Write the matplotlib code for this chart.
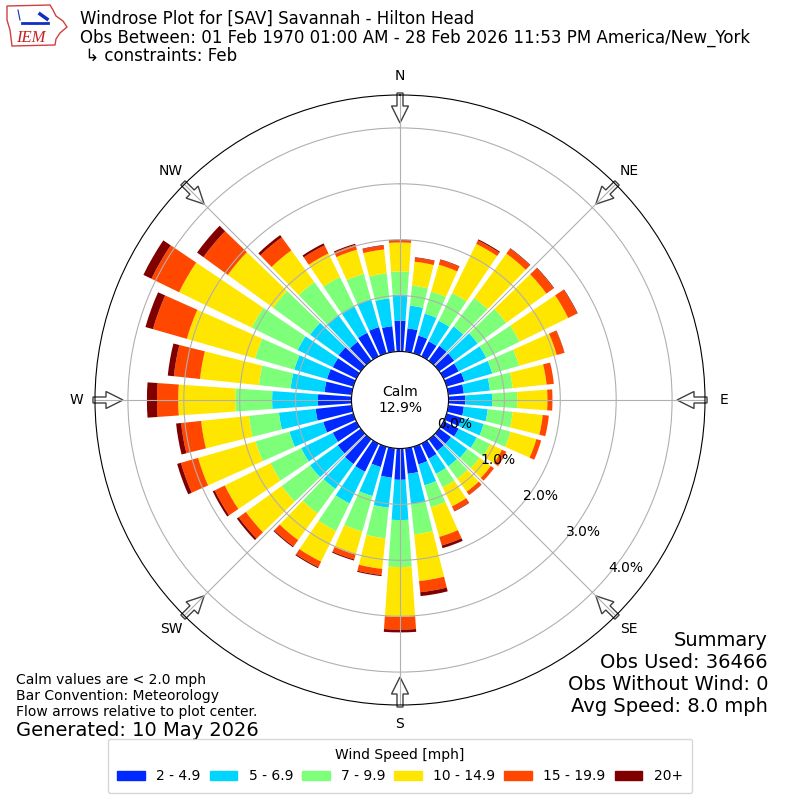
import numpy as np
import matplotlib
matplotlib.use("Agg")
import matplotlib.pyplot as plt
from matplotlib.patches import Rectangle, FancyArrow, Polygon
from matplotlib.lines import Line2D

# ---- data (percent of obs per direction / speed bin) ----
directions = [0, 10, 20, 30, 40, 50, 60, 70, 80, 90, 100, 110,
              120, 130, 140, 150, 160, 170, 180, 190, 200, 210, 220, 230,
              240, 250, 260, 270, 280, 290, 300, 310, 320, 330, 340, 350]
speed_labels = ["2 - 4.9", "5 - 6.9", "7 - 9.9", "10 - 14.9", "15 - 19.9", "20+"]

spd_2_5 = [0.55, 0.42, 0.33, 0.30, 0.33, 0.33, 0.30, 0.33, 0.28, 0.30, 0.28, 0.28,
           0.30, 0.26, 0.26, 0.30, 0.33, 0.46, 0.56, 0.53, 0.38, 0.56, 0.55, 0.51,
           0.47, 0.56, 0.65, 0.60, 0.49, 0.49, 0.47, 0.49, 0.42, 0.47, 0.49, 0.46]
spd_5_7 = [0.47, 0.41, 0.41, 0.41, 0.43, 0.52, 0.55, 0.52, 0.47, 0.48, 0.43, 0.41,
           0.36, 0.36, 0.34, 0.30, 0.39, 0.54, 0.72, 0.54, 0.54, 0.63, 0.55, 0.61,
           0.63, 0.63, 0.66, 0.82, 0.61, 0.61, 0.70, 0.63, 0.59, 0.52, 0.52, 0.50]
spd_7_10 = [0.41, 0.36, 0.41, 0.55, 0.63, 0.63, 0.66, 0.50, 0.41, 0.45, 0.45, 0.50,
            0.27, 0.27, 0.27, 0.27, 0.41, 0.55, 0.84, 0.55, 0.66, 0.55, 0.54, 0.63,
            0.61, 0.63, 0.54, 0.66, 0.57, 0.73, 0.91, 0.82, 0.73, 0.59, 0.47, 0.45]
spd_10_15 = [0.52, 0.43, 0.50, 0.98, 0.98, 0.89, 0.97, 0.70, 0.61, 0.54, 0.54, 0.48,
             0.23, 0.25, 0.29, 0.38, 0.55, 0.84, 0.89, 0.55, 0.43, 0.61, 0.59, 0.79,
             0.91, 1.07, 0.86, 1.02, 1.06, 1.27, 1.45, 1.00, 0.70, 0.47, 0.45, 0.43]
spd_15_20 = [0.04, 0.07, 0.09, 0.07, 0.11, 0.16, 0.18, 0.14, 0.13, 0.09, 0.11, 0.09,
             0.09, 0.07, 0.07, 0.09, 0.16, 0.20, 0.23, 0.11, 0.09, 0.11, 0.14, 0.16,
             0.20, 0.32, 0.36, 0.38, 0.47, 0.63, 0.55, 0.54, 0.29, 0.16, 0.09, 0.07]
spd_20p = [0.01, 0.01, 0.01, 0.02, 0.01, 0.01, 0.01, 0.005, 0.0, 0.0, 0.0, 0.0,
           0.0, 0.0, 0.005, 0.01, 0.05, 0.07, 0.05, 0.02, 0.02, 0.02, 0.02, 0.04,
           0.04, 0.07, 0.09, 0.18, 0.11, 0.14, 0.16, 0.14, 0.05, 0.04, 0.02, 0.01]

calm_pct = 12.9
ring_values = [0, 1, 2, 3, 4]
compass_angles = [0, 45, 90, 135, 180, 225, 270, 315]
compass_labels = ["N", "NE", "E", "SE", "S", "SW", "W", "NW"]

summary_lines = ["Summary", "Obs Used: 36466", "Obs Without Wind: 0",
                 "Avg Speed: 8.0 mph"]
note_lines = ["Calm values are < 2.0 mph", "Bar Convention: Meteorology",
              "Flow arrows relative to plot center."]

speed_bins = [spd_2_5, spd_5_7, spd_7_10, spd_10_15, spd_15_20, spd_20p]
colors = plt.get_cmap("jet")(np.linspace(0, 1, 7))[1:]

fig = plt.figure(figsize=(8, 8), dpi=100)
ax = fig.add_axes([0.11875, 0.11875, 0.7625, 0.7625], projection="polar")
ax.set_theta_zero_location("N")
ax.set_theta_direction(-1)
ax.set_ylim(0, 4.589)
ax.set_rorigin(-0.868)

# stacked bars
theta = np.deg2rad(directions)
bottom = np.zeros(len(directions))
for vals, col in zip(speed_bins, colors):
    ax.bar(theta, vals, width=np.deg2rad(8), bottom=bottom, color=col,
           linewidth=0, zorder=1)
    bottom += np.array(vals)

# grid / ticks
ax.set_yticks(ring_values)
ax.set_yticklabels([])
ax.set_thetagrids(compass_angles, compass_labels, fontsize=10)
ax.tick_params(axis="x", pad=3)
ax.grid(True, color="#b0b0b0", lw=0.8)
for v in ring_values:
    ax.text(np.deg2rad(130), v, "%.1f%%" % v, ha="left", va="bottom",
            fontsize=10, zorder=5)

# flow arrows at the compass points
for a in compass_angles:
    s, c = np.sin(np.deg2rad(a)), np.cos(np.deg2rad(a))
    r0, length = 307 / 610.0, 30 / 610.0
    arr = FancyArrow(0.5 + r0 * s, 0.5 + r0 * c, -length * s, -length * c,
                     width=6 / 610.0, head_width=17 / 610.0,
                     head_length=17 / 610.0, length_includes_head=True,
                     transform=ax.transAxes, facecolor="white",
                     edgecolor="#404040", lw=1, clip_on=False, zorder=1.2)
    ax.add_artist(arr)

ax.text(0.5, 0.5, "Calm\n%.1f%%" % calm_pct, transform=ax.transAxes,
        ha="center", va="center", fontsize=10)

# titles
fig.text(0.1, 1 - 19 / 800, "Windrose Plot for [SAV] Savannah - Hilton Head",
         ha="left", va="center", fontsize=12)
fig.text(0.1, 1 - 38 / 800,
         "Obs Between: 01 Feb 1970 01:00 AM - 28 Feb 2026 11:53 PM America/New_York",
         ha="left", va="center", fontsize=12)
fig.text(0.1, 1 - 56 / 800, " \u21b3 constraints: Feb", ha="left", va="center",
         fontsize=12)

# IEM logo (rough)
iowa = [(7, 6), (50, 5), (53, 10), (56, 16), (63, 21), (67, 27), (60, 33),
        (56, 39), (55, 45), (12, 46), (10, 30), (7, 20)]
fig.add_artist(Polygon([(x / 800, 1 - y / 800) for x, y in iowa], closed=True,
                       facecolor="white", edgecolor="#d04040", lw=1,
                       transform=fig.transFigure))
fig.add_artist(Line2D([22 / 800, 48 / 800], [1 - 23 / 800, 1 - 23 / 800],
                      color="#1030c0", lw=2, transform=fig.transFigure))
fig.add_artist(Line2D([40 / 800, 47 / 800], [1 - 14 / 800, 1 - 19 / 800],
                      color="#1030c0", lw=2.5, transform=fig.transFigure))
fig.add_artist(Line2D([18 / 800, 20 / 800], [1 - 10 / 800, 1 - 20 / 800],
                      color="#1030c0", lw=0.8, transform=fig.transFigure))
fig.text(31 / 800, 1 - 38 / 800, "IEM", color="#c82020", fontsize=12,
         family="Liberation Serif", style="italic", ha="center", va="center")

# notes and summary
for i, line in enumerate(note_lines):
    fig.text(16 / 800, 1 - (680 + 16 * i) / 800, line, ha="left",
             va="center", fontsize=10)
fig.text(16 / 800, 1 - 730 / 800, "Generated: 10 May 2026", ha="left",
         va="center", fontsize=14)
for i, line in enumerate(summary_lines):
    fig.text(768 / 800, 1 - (640 + 22 * i) / 800, line, ha="right",
             va="center", fontsize=14)

handles = [Rectangle((0, 0), 1, 1, color=c) for c in colors]
fig.legend(handles, speed_labels, loc="lower center", ncol=6,
           bbox_to_anchor=(0.5, 0.0), title="Wind Speed [mph]",
           fontsize=10, title_fontsize=10, columnspacing=0.65, borderpad=0.7)

fig.savefig("out.png", dpi=100)
